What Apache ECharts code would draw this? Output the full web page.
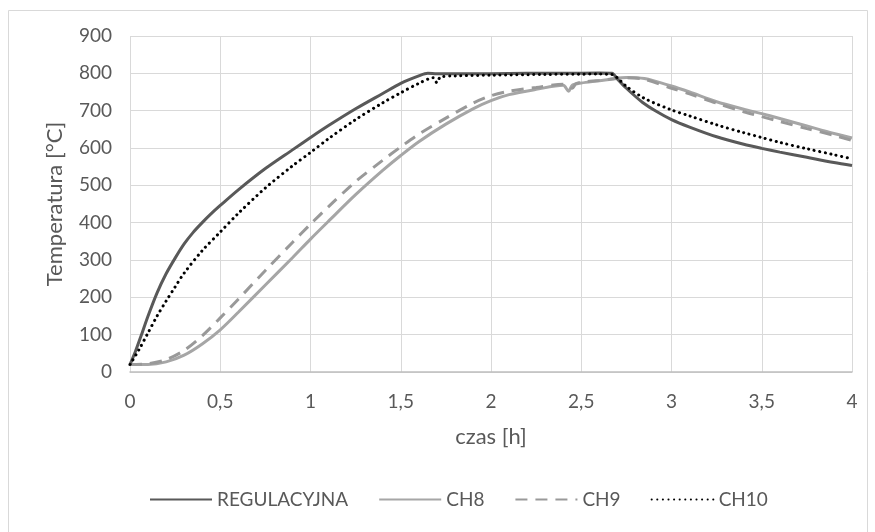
<!DOCTYPE html>
<html>
<head>
<meta charset="utf-8">
<script src="https://cdn.jsdelivr.net/npm/echarts@6/dist/echarts.min.js"></script>
<style>
  html, body { margin: 0; padding: 0; background: #ffffff; }
  #chart { width: 875px; height: 532px; }
</style>
</head>
<body>
<div id="chart"></div>
<script>
// Heating / cooling curves: temperature [°C] vs time [h]
const seriesNames = ['REGULACYJNA', 'CH8', 'CH9', 'CH10'];

const regTime = [0, 0.03, 0.06, 0.1, 0.15, 0.2, 0.25, 0.3, 0.35, 0.4, 0.45, 0.5, 0.6, 0.75, 0.9, 1.0, 1.1, 1.25, 1.4, 1.5, 1.6, 1.65, 1.7, 1.8, 2.0, 2.2, 2.4, 2.6, 2.67, 2.7, 2.75, 2.84, 2.92, 3.0, 3.1, 3.25, 3.4, 3.5, 3.6, 3.75, 3.9, 4.0];
const regTemp = [20, 55, 95, 150, 212, 263, 305, 343, 374, 400, 424, 446, 488, 545, 595, 628, 660, 705, 746, 773, 793, 800, 799, 799, 799, 800, 800, 801, 800, 785, 760, 722, 697, 676, 656, 630, 610, 599, 589, 575, 561, 553];

const ch8Time = [0, 0.1, 0.2, 0.3, 0.4, 0.5, 0.6, 0.75, 0.9, 1.0, 1.1, 1.25, 1.4, 1.5, 1.6, 1.75, 1.9, 2.0, 2.1, 2.25, 2.4, 2.43, 2.45, 2.5, 2.6, 2.67, 2.75, 2.85, 3.0, 3.1, 3.25, 3.4, 3.5, 3.6, 3.75, 3.9, 4.0];
const ch8Temp = [20, 20, 27, 45, 75, 113, 160, 233, 306, 356, 404, 475, 540, 580, 617, 664, 705, 727, 743, 757, 768, 752, 768, 774, 780, 785, 789, 786, 766, 750, 724, 704, 692, 679, 659, 639, 627];

const ch9Time = [0, 0.1, 0.2, 0.3, 0.4, 0.5, 0.6, 0.75, 0.9, 1.0, 1.1, 1.25, 1.4, 1.5, 1.6, 1.75, 1.9, 2.0, 2.1, 2.25, 2.4, 2.45, 2.47, 2.5, 2.6, 2.67, 2.75, 2.85, 3.0, 3.1, 3.25, 3.4, 3.5, 3.6, 3.75, 3.9, 4.0];
const ch9Temp = [20, 22, 33, 58, 97, 145, 195, 272, 347, 396, 443, 510, 567, 603, 637, 680, 720, 740, 752, 762, 771, 760, 772, 776, 781, 785, 788, 784, 760, 745, 720, 697, 684, 671, 652, 634, 620];

const ch10Time = [0, 0.05, 0.1, 0.15, 0.2, 0.25, 0.3, 0.4, 0.5, 0.6, 0.75, 0.9, 1.0, 1.1, 1.25, 1.4, 1.5, 1.6, 1.68, 1.7, 1.72, 1.8, 2.0, 2.3, 2.6, 2.67, 2.7, 2.75, 2.85, 3.0, 3.1, 3.25, 3.4, 3.5, 3.6, 3.75, 3.9, 4.0];
const ch10Temp = [20, 60, 105, 150, 190, 228, 265, 325, 375, 425, 493, 552, 588, 625, 676, 721, 748, 773, 788, 775, 790, 793, 795, 797, 798, 797, 788, 765, 733, 702, 686, 662, 641, 628, 615, 598, 582, 571];

const FONT = 'Lato, "Open Sans", sans-serif';
const TEXT = '#595959';

const zip = (xs, ys) => xs.map((x, i) => [x, ys[i]]);

const chart = echarts.init(document.getElementById('chart'), null, { renderer: 'canvas' });

const lineSeries = (name, xs, ys, z, lineStyle) => ({
  name, type: 'line', showSymbol: false, symbol: 'none', smooth: 0.3,
  data: zip(xs, ys), z,
  lineStyle, itemStyle: { color: lineStyle.color }
});

chart.setOption({
  backgroundColor: '#ffffff',
  animation: false,
  graphic: [{
    type: 'rect',
    shape: { x: 8.5, y: 10.5, width: 859, height: 540 },
    style: { fill: 'none', stroke: '#d9d9d9', lineWidth: 1 },
    silent: true
  }],
  grid: { left: 130, right: 23, top: 36, bottom: 160 },
  xAxis: {
    type: 'value',
    min: 0, max: 4, interval: 0.5,
    name: 'czas [h]',
    nameLocation: 'middle',
    nameGap: 54,
    nameTextStyle: { fontFamily: FONT, fontSize: 22, color: TEXT },
    axisLine: { show: true, lineStyle: { color: '#bfbfbf', width: 1.5 } },
    axisTick: { show: false },
    axisLabel: {
      margin: 20, fontFamily: FONT, fontSize: 19, color: TEXT,
      formatter: v => String(v).replace('.', ',')
    },
    splitLine: { show: true, lineStyle: { color: '#d9d9d9', width: 1 } }
  },
  yAxis: {
    type: 'value',
    min: 0, max: 900, interval: 100,
    name: 'Temperatura [°C]',
    nameLocation: 'middle',
    nameGap: 64,
    nameTextStyle: { fontFamily: FONT, fontSize: 22, color: TEXT },
    axisLine: { show: false },
    axisTick: { show: false },
    axisLabel: { margin: 18, fontFamily: FONT, fontSize: 19, color: TEXT },
    splitLine: { show: true, lineStyle: { color: '#d9d9d9', width: 1 } }
  },
  legend: {
    left: 144, top: 485,
    itemWidth: 62, itemHeight: 14, itemGap: 30,
    itemStyle: { color: 'rgba(0,0,0,0)', borderWidth: 0, opacity: 0 },
    textStyle: { fontFamily: FONT, fontSize: 19, color: TEXT },
    data: seriesNames
  },
  series: [
    lineSeries(seriesNames[0], regTime, regTemp, 4, { color: '#595959', width: 3 }),
    lineSeries(seriesNames[1], ch8Time, ch8Temp, 2, { color: '#a6a6a6', width: 3 }),
    lineSeries(seriesNames[2], ch9Time, ch9Temp, 3, { color: '#999999', width: 3, type: [12, 8] }),
    lineSeries(seriesNames[3], ch10Time, ch10Temp, 5, { color: '#000000', width: 3, type: [0.1, 5.5], cap: 'round' })
  ]
});
</script>
</body>
</html>
